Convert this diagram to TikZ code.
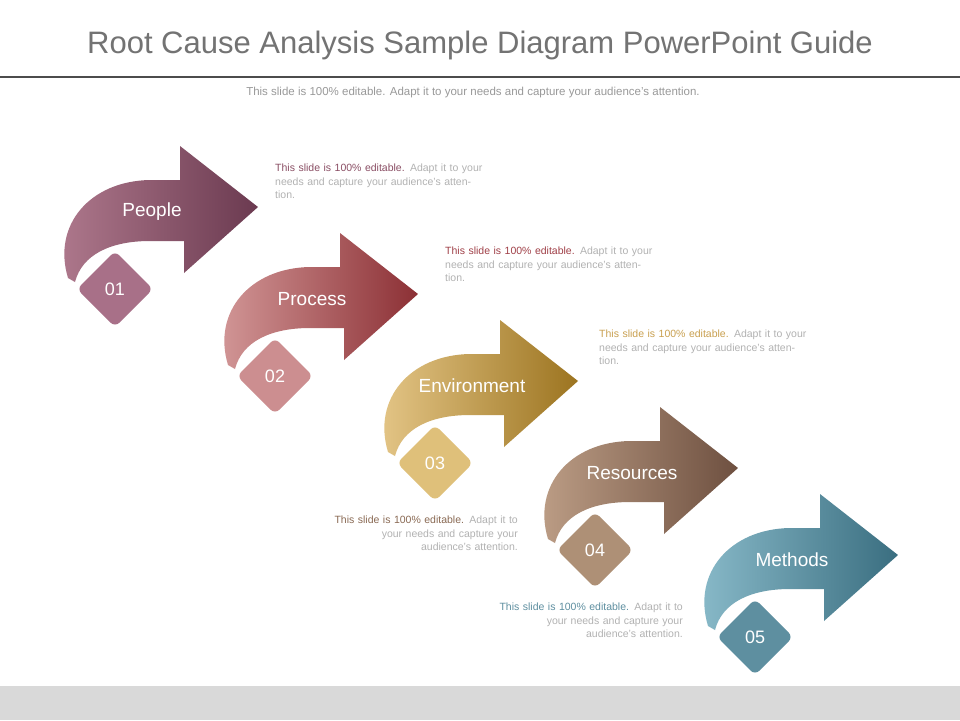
\documentclass[tikz,border=0pt]{standalone}
\usepackage{fontspec}
\setmainfont{Liberation Sans}
\begin{document}
\begin{tikzpicture}[x=1pt,y=-1pt,
  lbl/.style={text=white,font=\fontsize{19}{19}\selectfont},
  num/.style={text=white,font=\fontsize{18}{18}\selectfont},
  desc/.style={font=\fontsize{10.5}{13.5}\selectfont,text=black!30,inner sep=0pt,text width=210pt}]
\useasboundingbox (0,0) rectangle (960,720);
\fill[white] (0,0) rectangle (960,720);
\fill[black!15] (0,686) rectangle (960,720);
\node[text=black!55,font=\fontsize{31}{31}\selectfont] (title) at (480,45) {Root Cause Analysis Sample Diagram PowerPoint Guide};
\draw[black!70,line width=2] (0,77) -- (960,77);
\node[text=black!40,font=\fontsize{11.5}{12}\selectfont] (sub) at (473,93) {This slide is 100\% editable. Adapt it to your needs and capture your audience's attention.};
\foreach \i/\lc/\rc/\dc/\name in {0/B07A8E/6B3A50/A87088/People,1/D49A9A/8C3035/CC8E90/Process,2/E6C88A/9C7420/DFC07A/Environment,3/BFA088/6E5040/AE9076/Resources,4/8BBCCB/3A6E80/5E8FA0/Methods}{
  \begin{scope}[shift={(160*\i,87*\i)}]
    \definecolor{lc}{HTML}{\lc}\definecolor{rc}{HTML}{\rc}\definecolor{dc}{HTML}{\dc}
    \shade[left color=lc,right color=rc] (68,278) .. controls (52,225) and (90,181) .. (150,180) -- (180,180) -- (180,146) -- (258,207) -- (184,273) -- (184,241) -- (150,241) .. controls (110,241) and (82,255) .. (75,282) -- cycle;
    \fill[dc,rounded corners=6pt] (115,251) -- (153,289) -- (115,327) -- (77,289) -- cycle;
    \node[lbl] (l\i) at (152,212) {\name};
    \node[num] (n\i) at (115,289) {0\the\numexpr\i+1\relax};
  \end{scope}
}
\definecolor{c0}{HTML}{8A4E64}\definecolor{c1}{HTML}{A04048}\definecolor{c2}{HTML}{C9A050}\definecolor{c3}{HTML}{8A6A54}\definecolor{c4}{HTML}{5E8FA0}
\node[desc,anchor=north west] (d0) at (275,164) {\textcolor{c0}{This slide is 100\% editable.} Adapt it to your needs and capture your audience's attention.};
\node[desc,anchor=north west] (d1) at (445,247) {\textcolor{c1}{This slide is 100\% editable.} Adapt it to your needs and capture your audience's attention.};
\node[desc,anchor=north west] (d2) at (599,330) {\textcolor{c2}{This slide is 100\% editable.} Adapt it to your needs and capture your audience's attention.};
\node[desc,anchor=north east,align=right] (d3) at (518,516) {\textcolor{c3}{This slide is 100\% editable.} Adapt it to\\ your needs and capture your\\ audience's attention.};
\node[desc,anchor=north east,align=right] (d4) at (683,603) {\textcolor{c4}{This slide is 100\% editable.} Adapt it to\\ your needs and capture your\\ audience's attention.};
\end{tikzpicture}
\end{document}
